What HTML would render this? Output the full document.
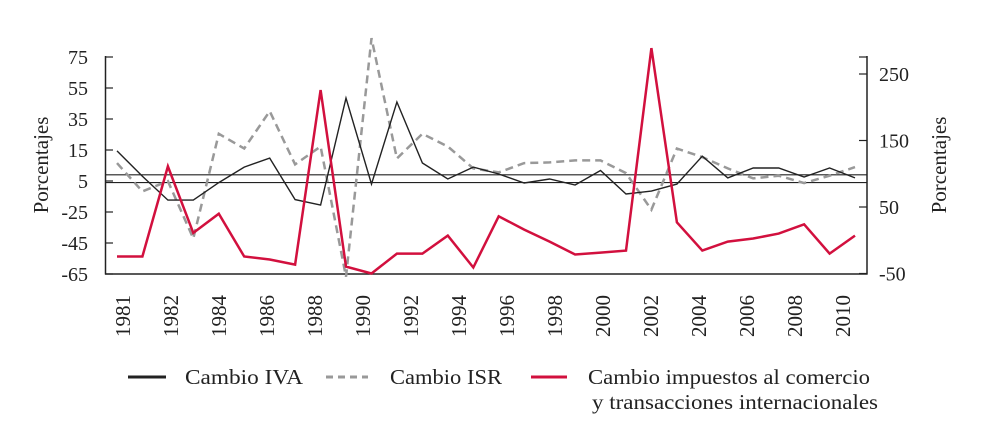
<!DOCTYPE html>
<html><head><meta charset="utf-8"><style>
html,body{margin:0;padding:0;background:#fff;}
svg{display:block;font-family:"Liberation Serif",serif;}
</style></head><body>
<svg id="chart" width="991" height="431" viewBox="0 0 991 431">
<g id="axes"></g>
<g id="series"></g>
<g id="legend">
  <line x1="128" y1="377" x2="166" y2="377" stroke="#222" stroke-width="3"/>
  <text x="185" y="384" font-size="21" textLength="118" lengthAdjust="spacingAndGlyphs" fill="#222">Cambio IVA</text>
  <line x1="326" y1="377" x2="368" y2="377" stroke="#999" stroke-width="3" stroke-dasharray="7,5"/>
  <text x="390" y="384" font-size="21" textLength="112" lengthAdjust="spacingAndGlyphs" fill="#222">Cambio ISR</text>
  <line x1="531" y1="377" x2="567" y2="377" stroke="#d2103e" stroke-width="3"/>
  <text x="588" y="384" font-size="21" textLength="282" lengthAdjust="spacingAndGlyphs" fill="#222">Cambio impuestos al comercio</text>
  <text x="592" y="409" font-size="21" textLength="286" lengthAdjust="spacingAndGlyphs" fill="#222">y transacciones internacionales</text>
</g>
</svg>
<script>
const years = [1981,1982,1983,1984,1985,1986,1987,1988,1989,1990,1991,1992,1993,1994,1995,1996,1997,1998,1999,2000,2001,2002,2003,2004,2005,2006,2007,2008,2009,2010];
const ivaValues = [14.4,-2,-17.3,-17.3,-6,4,9.8,-17,-20.5,48.5,-7,46,6.6,-3.7,4,-0.5,-6.3,-3.7,-7.6,1.8,-13.4,-11.5,-7,11,-3,3.4,3.4,-2.4,3.4,-3];
const isrValues = [116,73.5,89,2.6,160,138,194,114,141,-55,304,123,160,141,108,102,116,117,120,120,101,46,138,125,108,93,97,86,97,110];
const tradeValues = [-24.5,-24.5,111,11,40,-24.5,-29,-36.6,226,-39.6,-50,-20,-20,7,-41,36,16,-2,-21.5,-18.5,-15.5,289,27,-15.5,-2,2.6,10,24,-20,7];
const leftTicks = [75,55,35,15,-5,-25,-45,-65];
const leftTickLabels = ["75","55","35","15","5","-25","-45","-65"];
const rightTicks = [250,150,50,-50];
const xTickYears = [1981,1982,1984,1986,1988,1990,1992,1994,1996,1998,2000,2002,2004,2006,2008,2010];
const refLines = [-1,-6];

const NS="http://www.w3.org/2000/svg";
function mk(tag,attrs,parent){const e=document.createElementNS(NS,tag);for(const k in attrs)e.setAttribute(k,attrs[k]);parent.appendChild(e);return e;}
const X0=117,X1=855;
function xs(i){return X0+i*(X1-X0)/(years.length-1);}
function yL(v){return 57+(75-v)*217/140;}
function yR(v){return 74+(250-v)*0.665;}
function xLabel(y){return y===1981?123:171+(y-1982)*24;}

const axes=document.getElementById('axes');
const series=document.getElementById('series');
let e;
e=mk('line',{x1:105.5,y1:56,x2:105.5,y2:274.5,stroke:'#222','stroke-width':1.5},axes);


e=mk('line',{x1:867,y1:56,x2:867,y2:274.5,stroke:'#222','stroke-width':1.5},axes);


e=mk('line',{x1:105,y1:274,x2:867.5,y2:274,stroke:'#222','stroke-width':1.5},axes);


e=mk('line',{x1:859,y1:57,x2:867,y2:57,stroke:'#222','stroke-width':1.2},axes);


leftTicks.forEach((v,k)=>{
  const y=yL(v);
  e=mk('line',{x1:105,y1:y,x2:113,y2:y,stroke:'#222','stroke-width':1.2},axes);
  
  
  e=mk('text',{x:88,y:y+7,'font-size':20,'text-anchor':'end',fill:'#222'},axes);
  e.textContent=leftTickLabels[k];
  
  
});
rightTicks.forEach(v=>{
  const y=yR(v);
  e=mk('line',{x1:859,y1:y,x2:867,y2:y,stroke:'#222','stroke-width':1.2},axes);
  
  
  e=mk('text',{x:879,y:y+7,'font-size':20,fill:'#222'},axes);
  e.textContent=String(v);
  
  
});
xTickYears.forEach(yr=>{
  const x=xLabel(yr);
  e=mk('text',{x:0,y:0,'font-size':21,'text-anchor':'end',fill:'#222',transform:`translate(${x+7},295) rotate(-90)`},axes);
  e.textContent=String(yr);
  
  
});
e=mk('text',{x:0,y:0,'font-size':21,'text-anchor':'middle',fill:'#222',transform:'translate(48,165) rotate(-90)'},axes);
e.textContent='Porcentajes';


e=mk('text',{x:0,y:0,'font-size':21,'text-anchor':'middle',fill:'#222',transform:'translate(946,165) rotate(-90)'},axes);
e.textContent='Porcentajes';


refLines.forEach(v=>{
  e=mk('line',{x1:105,y1:yL(v),x2:867,y2:yL(v),stroke:'#222','stroke-width':1.2},axes);
  
  
});
function pts(vals,f){return vals.map((v,i)=>xs(i).toFixed(1)+','+f(v).toFixed(1)).join(' ');}
e=mk('polyline',{points:pts(isrValues,yR),fill:'none',stroke:'#999','stroke-width':2.5,'stroke-dasharray':'8,5'},series);


e=mk('polyline',{points:pts(ivaValues,yL),fill:'none',stroke:'#222','stroke-width':1.4},series);


e=mk('polyline',{points:pts(tradeValues,yR),fill:'none',stroke:'#d2103e','stroke-width':2.5,'stroke-linejoin':'miter'},series);


</script>
</body></html>
